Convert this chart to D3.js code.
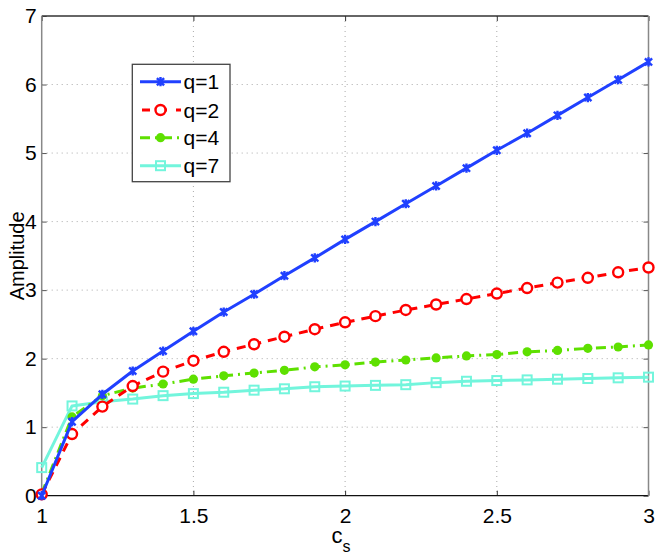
<!DOCTYPE html>
<html><head><meta charset="utf-8">
<script src="https://cdn.jsdelivr.net/npm/d3@7"></script>
<style>body{margin:0;background:#fff}svg{display:block}text{font-family:"Liberation Sans",Arial,Helvetica,sans-serif}</style>
</head><body><svg id="c" width="664" height="560"></svg>
<script>
const xs = [1,1.1,1.2,1.3,1.4,1.5,1.6,1.7,1.8,1.9,2,2.1,2.2,2.3,2.4,2.5,2.6,2.7,2.8,2.9,3];
const q1 = [0,1.08,1.48,1.82,2.11,2.40,2.68,2.94,3.21,3.47,3.74,4.00,4.26,4.52,4.78,5.04,5.29,5.55,5.81,6.07,6.33];
const q2 = [0.02,0.90,1.30,1.60,1.81,1.97,2.10,2.21,2.32,2.43,2.53,2.62,2.71,2.79,2.87,2.95,3.03,3.11,3.18,3.26,3.33];
const q4 = [0.03,1.15,1.46,1.57,1.63,1.70,1.75,1.79,1.83,1.88,1.91,1.95,1.98,2.01,2.04,2.06,2.10,2.12,2.15,2.17,2.20];
const q7 = [0.41,1.31,1.37,1.41,1.46,1.49,1.51,1.54,1.56,1.59,1.60,1.61,1.62,1.65,1.67,1.68,1.69,1.70,1.71,1.72,1.73];
const seriesNames = ["q=1","q=2","q=4","q=7"];
const xTicks = [1,1.5,2,2.5,3];
const yTicks = [0,1,2,3,4,5,6,7];

const svg = d3.select("#c");
const L=41.7,R=648.5,T=16,B=495.7;
const x = d3.scaleLinear().domain([1,3]).range([L,R]);
const y = d3.scaleLinear().domain([0,7]).range([B,T]);

// grid
const g = svg.append("g");
xTicks.forEach(t=>{ if(t>1&&t<3) g.append("line").attr("x1",x(t)).attr("x2",x(t)).attr("y1",T).attr("y2",B).attr("stroke","#aaa").attr("stroke-width",1).attr("stroke-dasharray","1,4");});
yTicks.forEach(t=>{ if(t>0&&t<7) g.append("line").attr("x1",L).attr("x2",R).attr("y1",y(t)).attr("y2",y(t)).attr("stroke","#aaa").attr("stroke-width",1).attr("stroke-dasharray","1,4");});

// axes
const xa = svg.append("g").attr("transform",`translate(0,${B})`).call(d3.axisBottom(x).tickValues(xTicks).tickSize(-5).tickPadding(9).tickFormat(d3.format("")));
xa.select(".domain").remove();
xa.selectAll("line").attr("stroke","#333");
xa.selectAll("text").attr("font-size",21).attr("fill","#000").attr("dy","0.85em");
const xt = svg.append("g").attr("transform",`translate(0,${T})`).call(d3.axisTop(x).tickValues(xTicks).tickSize(-5).tickFormat(""));
xt.select(".domain").remove(); xt.selectAll("line").attr("stroke","#333");
const ya = svg.append("g").attr("transform",`translate(${L},0)`).call(d3.axisLeft(y).tickValues(yTicks).tickSize(-5).tickPadding(5).tickFormat(d3.format("d")));
ya.select(".domain").remove();
ya.selectAll("line").attr("stroke","#555");
ya.selectAll("text").attr("font-size",21).attr("fill","#000");
const yr = svg.append("g").attr("transform",`translate(${R},0)`).call(d3.axisRight(y).tickValues(yTicks).tickSize(-5).tickFormat(""));
yr.select(".domain").remove(); yr.selectAll("line").attr("stroke","#555");

svg.append("line").attr("x1",L).attr("x2",R).attr("y1",T).attr("y2",T).attr("stroke","#333").attr("stroke-width",1.3);
svg.append("line").attr("x1",L).attr("x2",R).attr("y1",B).attr("y2",B).attr("stroke","#111").attr("stroke-width",1.3);
svg.append("line").attr("x1",L).attr("x2",L).attr("y1",T).attr("y2",B).attr("stroke","#888").attr("stroke-width",1.5);
svg.append("line").attr("x1",R).attr("x2",R).attr("y1",T).attr("y2",B).attr("stroke","#888").attr("stroke-width",1.5);

// labels
svg.append("text").attr("transform",`translate(24,${(T+B)/2}) rotate(-90)`).attr("text-anchor","middle").attr("font-size",20).text("Amplitude");
const xl = svg.append("text").attr("x",341).attr("y",543).attr("font-size",22).attr("text-anchor","middle");
xl.append("tspan").text("c");
xl.append("tspan").attr("font-size",16).attr("dy",9).text("s");

const styles = [
 {d:q1,c:"#2040ff",dash:null,m:"star"},
 {d:q2,c:"#ff0000",dash:"9,7",m:"ocircle"},
 {d:q4,c:"#5ee000",dash:"10,5,2,5",m:"dot"},
 {d:q7,c:"#72f5dc",dash:null,m:"square"}
];
const line = d3.line().x((d,i)=>x(xs[i])).y(d=>y(d));

function marker(sel,m,c,cx,cy){
  if(m==="star"){
    const s=3.6;
    const p=`M${cx-s},${cy-s}L${cx+s},${cy+s}M${cx-s},${cy+s}L${cx+s},${cy-s}M${cx},${cy-s-1}L${cx},${cy+s+1}`;
    sel.append("path").attr("d",p).attr("stroke",c).attr("stroke-width",2.4).attr("fill","none");
  } else if(m==="ocircle"){
    sel.append("circle").attr("cx",cx).attr("cy",cy).attr("r",5).attr("fill","#fff").attr("stroke",c).attr("stroke-width",2.4);
  } else if(m==="dot"){
    sel.append("circle").attr("cx",cx).attr("cy",cy).attr("r",4.6).attr("fill",c);
  } else {
    sel.append("rect").attr("x",cx-4.5).attr("y",cy-4.5).attr("width",9).attr("height",9).attr("fill","none").attr("stroke",c).attr("stroke-width",2);
  }
}

// draw in reverse order so q=1 on top
[3,2,1,0].forEach(k=>{
  const s=styles[k];
  const gg=svg.append("g");
  gg.append("path").attr("d",line(s.d)).attr("fill","none").attr("stroke",s.c).attr("stroke-width",3).attr("stroke-dasharray",s.dash).attr("stroke-linejoin","round");
  s.d.forEach((v,i)=>marker(gg,s.m,s.c,x(xs[i]),y(v)));
});

// legend
const lg = svg.append("g");
lg.append("rect").attr("x",132.3).attr("y",64.3).attr("width",97.7).attr("height",117.4).attr("fill","#fff").attr("stroke","#444").attr("stroke-width",1.3);
const ly=[81.7,110,137.7,165.7];
styles.forEach((s,i)=>{
  lg.append("line").attr("x1",140).attr("x2",181).attr("y1",ly[i]).attr("y2",ly[i]).attr("stroke",s.c).attr("stroke-width",3).attr("stroke-dasharray",s.dash? (i===1?"8,9":"10,5,2,5"):null).attr("stroke-dashoffset",i===1?-2:0);
  marker(lg,s.m,s.c,160.5,ly[i]);
  lg.append("text").attr("x",183.5).attr("y",ly[i]+7.5).attr("font-size",21).text(seriesNames[i]);
});
</script></body></html>
